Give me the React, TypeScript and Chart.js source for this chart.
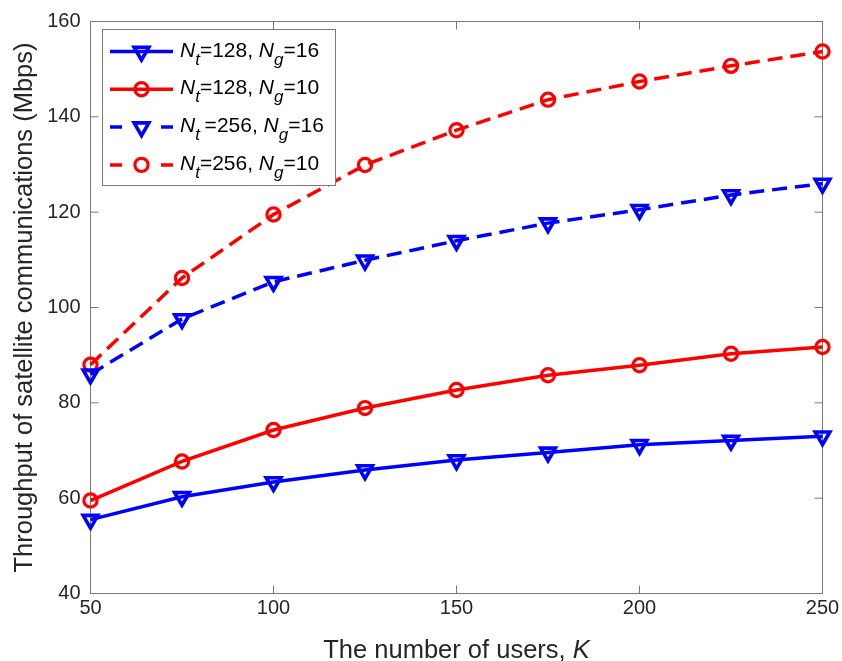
import React, { useEffect, useRef } from 'react';
import { Chart, registerables } from 'chart.js';
import { drawPoint } from 'chart.js/helpers';

Chart.register(...registerables);

// ---- data ----
const users = [50, 75, 100, 125, 150, 175, 200, 225, 250];
const nt128ng16 = [55.5, 60.3, 63.4, 65.9, 68.0, 69.6, 71.2, 72.1, 73.0];
const nt128ng10 = [59.5, 67.7, 74.3, 78.9, 82.7, 85.8, 87.9, 90.3, 91.7];
const nt256ng16 = [86.0, 97.6, 105.4, 109.9, 114.0, 117.7, 120.5, 123.6, 126.0];
const nt256ng10 = [88.0, 106.2, 119.5, 129.9, 137.2, 143.6, 147.4, 150.7, 153.7];
const xTicks = [50, 100, 150, 200, 250];
const yTicks = [40, 60, 80, 100, 120, 140, 160];
const xTitle = 'The number of users, ';
const xTitleItalic = 'K';
const yTitle = 'Throughput of satellite communications (Mbps)';

type Part = { t: string; i?: boolean; sub?: boolean };
const legendLabels: Part[][] = [
  [{ t: 'N', i: true }, { t: 't', i: true, sub: true }, { t: '=128, ' }, { t: 'N', i: true }, { t: 'g', i: true, sub: true }, { t: '=16' }],
  [{ t: 'N', i: true }, { t: 't', i: true, sub: true }, { t: '=128, ' }, { t: 'N', i: true }, { t: 'g', i: true, sub: true }, { t: '=10' }],
  [{ t: 'N', i: true }, { t: 't ', i: true, sub: true }, { t: '=256, ' }, { t: 'N', i: true }, { t: 'g', i: true, sub: true }, { t: '=16' }],
  [{ t: 'N', i: true }, { t: 't', i: true, sub: true }, { t: '=256, ' }, { t: 'N', i: true }, { t: 'g', i: true, sub: true }, { t: '=10' }],
];

// ---- styles ----
const FONT = '"Liberation Sans", Arial, Helvetica, sans-serif';
const BLUE = '#0000ff';
const RED = '#ff0000';
const AXIS = '#7a7a7a';
const TEXT = '#262626';
const DASH = [15, 8];
const TICK_LEN = 8;
const LINE_W = 3.5;

const series = [
  { data: nt128ng16, color: BLUE, style: 'triangle', dashed: false },
  { data: nt128ng10, color: RED, style: 'circle', dashed: false },
  { data: nt256ng16, color: BLUE, style: 'triangle', dashed: true },
  { data: nt256ng10, color: RED, style: 'circle', dashed: true },
];

const markerOpts = (style: string) =>
  style === 'triangle'
    ? { pointStyle: 'triangle', rotation: 180, radius: 8.5, borderWidth: 3.6 }
    : { pointStyle: 'circle', rotation: 0, radius: 6.6, borderWidth: 3.2 };

const boxPlugin = {
  id: 'matlabBox',
  beforeDatasetsDraw(chart: any) {
    const { ctx, chartArea: a, scales } = chart;
    const x = scales.x;
    const y = scales.y;
    ctx.save();
    ctx.strokeStyle = AXIS;
    ctx.lineWidth = 1;
    ctx.strokeRect(a.left, a.top, a.right - a.left, a.bottom - a.top);
    ctx.beginPath();
    x.ticks.forEach((t: any) => {
      const px = x.getPixelForValue(t.value);
      ctx.moveTo(px, a.bottom);
      ctx.lineTo(px, a.bottom - TICK_LEN);
      ctx.moveTo(px, a.top);
      ctx.lineTo(px, a.top + TICK_LEN);
    });
    y.ticks.forEach((t: any) => {
      const py = y.getPixelForValue(t.value);
      ctx.moveTo(a.left, py);
      ctx.lineTo(a.left + TICK_LEN, py);
      ctx.moveTo(a.right, py);
      ctx.lineTo(a.right - TICK_LEN, py);
    });
    ctx.stroke();
    ctx.restore();
  },
};

const LEG = { left: 102.5, top: 29.5, right: 335.5, bottom: 185.5, row0: 51.5, rowStep: 37.8, lineL: 110, lineR: 173, textX: 180 };

const legendPlugin = {
  id: 'matlabLegend',
  afterDraw(chart: any) {
    const { ctx } = chart;
    ctx.save();
    ctx.fillStyle = '#ffffff';
    ctx.fillRect(LEG.left, LEG.top, LEG.right - LEG.left, LEG.bottom - LEG.top);
    ctx.strokeStyle = AXIS;
    ctx.lineWidth = 1;
    ctx.strokeRect(LEG.left, LEG.top, LEG.right - LEG.left, LEG.bottom - LEG.top);
    series.forEach((s, i) => {
      const ry = LEG.row0 + i * LEG.rowStep;
      const mx = (LEG.lineL + LEG.lineR) / 2;
      ctx.strokeStyle = s.color;
      ctx.lineWidth = LINE_W;
      ctx.setLineDash([]);
      ctx.beginPath();
      if (s.dashed) {
        ctx.moveTo(LEG.lineL, ry);
        ctx.lineTo(LEG.lineL + 12, ry);
        ctx.moveTo(LEG.lineR - 12, ry);
        ctx.lineTo(LEG.lineR, ry);
      } else {
        ctx.moveTo(LEG.lineL, ry);
        ctx.lineTo(LEG.lineR, ry);
      }
      ctx.stroke();
      const m = markerOpts(s.style);
      ctx.fillStyle = 'rgba(0,0,0,0)';
      ctx.strokeStyle = s.color;
      ctx.lineWidth = m.borderWidth;
      drawPoint(ctx, m as any, mx, ry);
      // text
      let tx = LEG.textX;
      ctx.fillStyle = '#000000';
      ctx.textBaseline = 'alphabetic';
      ctx.textAlign = 'left';
      legendLabels[i].forEach((p) => {
        ctx.font = `${p.i ? 'italic ' : ''}${p.sub ? 17 : 21}px ${FONT}`;
        ctx.fillText(p.t, tx, ry + 5 + (p.sub ? 8 : 0));
        tx += ctx.measureText(p.t).width;
      });
    });
    ctx.restore();
  },
};

const xTitlePlugin = {
  id: 'xTitleItalic',
  afterDraw(chart: any) {
    const { ctx, chartArea: a } = chart;
    ctx.save();
    ctx.fillStyle = TEXT;
    ctx.textBaseline = 'alphabetic';
    const f1 = `25.5px ${FONT}`;
    const f2 = `italic 25.5px ${FONT}`;
    ctx.font = f1;
    const w1 = ctx.measureText(xTitle).width;
    ctx.font = f2;
    const w2 = ctx.measureText(xTitleItalic).width;
    const cx = (a.left + a.right) / 2;
    const x0 = cx - (w1 + w2) / 2;
    ctx.font = f1;
    ctx.textAlign = 'left';
    ctx.fillText(xTitle, x0, 658.3);
    ctx.font = f2;
    ctx.fillText(xTitleItalic, x0 + w1, 658.3);
    ctx.restore();
  },
};

export default function App() {
  const ref = useRef<HTMLCanvasElement | null>(null);
  useEffect(() => {
    if (!ref.current) return;
    const chart = new Chart(ref.current, {
      type: 'line',
      data: {
        datasets: series.map((s, idx) => {
          const m = markerOpts(s.style);
          return {
            label: 'series' + idx,
            data: users.map((k, i) => ({ x: k, y: s.data[i] })),
            borderColor: s.color,
            backgroundColor: 'rgba(0,0,0,0)',
            borderWidth: LINE_W,
            borderDash: s.dashed ? DASH : [],
            borderCapStyle: 'butt',
            pointStyle: m.pointStyle as any,
            rotation: m.rotation,
            pointRadius: m.radius,
            pointBorderWidth: m.borderWidth,
            pointBackgroundColor: 'rgba(0,0,0,0)',
            pointBorderColor: s.color,
            fill: false,
            tension: 0,
            clip: false as any,
          };
        }),
      },
      options: {
        animation: false,
        responsive: true,
        maintainAspectRatio: false,
        layout: { padding: { left: 0, top: 21.5, right: 19.5, bottom: 0 } },
        plugins: { legend: { display: false }, tooltip: { enabled: false } },
        scales: {
          x: {
            type: 'linear',
            min: 50,
            max: 250,
            grid: { display: false, drawTicks: false },
            border: { display: false },
            afterBuildTicks: (s: any) => {
              s.ticks = xTicks.map((v) => ({ value: v }));
            },
            afterFit: (s: any) => {
              s.height = 67.5;
              s.paddingLeft = 0;
              s.paddingRight = 0;
            },
            ticks: {
              color: TEXT,
              font: { family: FONT, size: 20 },
              padding: 3,
              maxRotation: 0,
              autoSkip: false,
            },
            title: { display: false },
          },
          y: {
            type: 'linear',
            min: 40,
            max: 160,
            grid: { display: false, drawTicks: false },
            border: { display: false },
            afterBuildTicks: (s: any) => {
              s.ticks = yTicks.map((v) => ({ value: v }));
            },
            afterFit: (s: any) => {
              s.width = 90.5;
              s.paddingTop = 0;
              s.paddingBottom = 0;
            },
            ticks: {
              color: TEXT,
              font: { family: FONT, size: 20 },
              padding: 10,
              autoSkip: false,
            },
            title: {
              display: true,
              text: yTitle,
              color: TEXT,
              font: { family: FONT, size: 25.5, lineHeight: 1 },
              padding: { top: 12.6, bottom: 0 },
            },
          },
        },
      },
      plugins: [boxPlugin, legendPlugin, xTitlePlugin],
    } as any);
    return () => chart.destroy();
  }, []);
  return (
    <div style={{ position: 'absolute', left: 0, top: 0, width: 842, height: 661 }}>
      <canvas ref={ref} />
    </div>
  );
}
